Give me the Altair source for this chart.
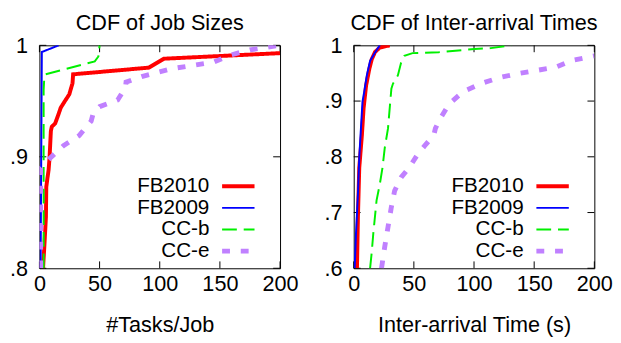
import altair as alt
import pandas as pd

SERIES = ["FB2010", "FB2009", "CC-b", "CC-e"]
COLORS = ["#ff0000", "#0000ff", "#00f000", "#c080ff"]
WIDTHS = [4, 2, 2, 5]
DASHES = [[1, 0], [1, 0], [15, 7], [8, 11]]

# Left panel: CDF of job sizes (x = #tasks/job, y = CDF)
js_fb2010_x = [3.0, 4.1, 5.4, 5.7, 6.8, 7.6, 8.4, 9.5, 10.3, 13.1, 15.8, 17.7, 21.2, 24.8, 27.5, 28.0, 91.0, 103.5, 200.0]
js_fb2010_y = [0.800, 0.820, 0.846, 0.873, 0.882, 0.888, 0.899, 0.923, 0.927, 0.930, 0.938, 0.944, 0.950, 0.956, 0.966, 0.974, 0.980, 0.988, 0.993]
js_fb2009_x = [1.0, 1.5, 2.0, 16.0]
js_fb2009_y = [0.800, 0.900, 0.994, 1.000]
js_ccb_x = [3.5, 3.5, 4.0, 5.0, 46.0, 49.0, 50.0]
js_ccb_y = [0.800, 0.960, 0.970, 0.974, 0.9856, 0.990, 1.000]
js_cce_x = [1.0, 1.0, 9.0, 20.0, 33.0, 43.0, 44.5, 50.0, 65.0, 71.5, 72.0, 85.0, 110.0, 145.0, 158.0, 175.0, 200.0]
js_cce_y = [0.800, 0.890, 0.899, 0.910, 0.919, 0.932, 0.938, 0.945, 0.951, 0.962, 0.967, 0.972, 0.979, 0.985, 0.991, 0.996, 1.000]

# Right panel: CDF of inter-arrival times (x = seconds)
ia_fb2010_x = [2.7, 3.5, 4.6, 6.8, 8.2, 10.3, 13.0, 15.0, 17.7, 21.7, 29.9]
ia_fb2010_y = [0.600, 0.692, 0.780, 0.839, 0.887, 0.928, 0.958, 0.975, 0.988, 0.996, 1.000]
ia_fb2009_x = [0.8, 1.9, 3.5, 4.6, 6.0, 7.3, 8.7, 10.9, 13.6, 17.7, 21.7]
ia_fb2009_y = [0.600, 0.663, 0.733, 0.798, 0.851, 0.899, 0.916, 0.946, 0.972, 0.987, 1.000]
ia_ccb_x = [13.6, 14.9, 16.3, 19.0, 21.7, 23.9, 25.8, 28.5, 29.9, 31.3, 32.6, 36.7, 39.4, 42.1, 48.9, 70.7, 100.5, 114.0, 131.0]
ia_ccb_y = [0.600, 0.627, 0.663, 0.722, 0.751, 0.780, 0.816, 0.851, 0.887, 0.922, 0.931, 0.946, 0.969, 0.981, 0.986, 0.9876, 0.9935, 0.995, 1.000]
ia_cce_x = [23.1, 25.8, 28.5, 31.3, 34.0, 39.4, 46.2, 53.0, 59.8, 66.6, 67.9, 72.0, 78.8, 81.6, 91.0, 106.0, 120.9, 135.8, 152.0, 168.3, 181.8, 200.0]
ia_cce_y = [0.600, 0.639, 0.674, 0.710, 0.739, 0.763, 0.781, 0.804, 0.822, 0.839, 0.851, 0.869, 0.893, 0.899, 0.917, 0.9315, 0.942, 0.949, 0.955, 0.961, 0.973, 0.981]

x_ticks = [0, 50, 100, 150, 200]
left_y_ticks = [0.8, 0.9, 1.0]
right_y_ticks = [0.6, 0.7, 0.8, 0.9, 1.0]

FONT = "Liberation Sans"
FS = 22
LEG_FS = 21
W, H = 245, 227
TL = 7
# legend placement inside plot (pixels, relative to plot area)
LEG_LABEL_RIGHT = 173
LEG_SYM_X1, LEG_SYM_X2 = 186, 219
LEG_ROW0, LEG_ROW_STEP = 143.5, 22


def make_df(pairs):
    rows = []
    for name, xs, ys in pairs:
        for i, (a, b) in enumerate(zip(xs, ys)):
            rows.append({"series": name, "x": a, "y": b, "i": i})
    return pd.DataFrame(rows)


legend_df = pd.DataFrame({"series": SERIES})


def panel(df, title, xtitle, ydom, yticks):
    xs = alt.Scale(domain=[0, 200], nice=False, zero=False)
    ys = alt.Scale(domain=ydom, nice=False, zero=False)
    xaxis = alt.Axis(values=x_ticks, grid=False, ticks=False, domain=False,
                     labelFlush=False, labelPadding=6, titlePadding=20,
                     labelFontSize=FS, titleFontSize=FS)
    yaxis = alt.Axis(values=yticks, grid=False, ticks=False, domain=False,
                     labelFlush=False, labelPadding=12, labelFontSize=FS,
                     labelExpr="datum.value == 1 ? '1' : substring(format(datum.value, '.1f'), 1)")
    layers = []
    xt = pd.DataFrame({"x": x_ticks})
    yt = pd.DataFrame({"y": yticks})
    layers.append(alt.Chart(xt).mark_rule(color="black", strokeWidth=1).encode(
        x=alt.X("x:Q", scale=xs, axis=None), y=alt.value(H - TL), y2=alt.value(H)))
    layers.append(alt.Chart(xt).mark_rule(color="black", strokeWidth=1).encode(
        x=alt.X("x:Q", scale=xs, axis=None), y=alt.value(0), y2=alt.value(TL)))
    layers.append(alt.Chart(yt).mark_rule(color="black", strokeWidth=1).encode(
        y=alt.Y("y:Q", scale=ys, axis=None), x=alt.value(0), x2=alt.value(TL)))
    layers.append(alt.Chart(yt).mark_rule(color="black", strokeWidth=1).encode(
        y=alt.Y("y:Q", scale=ys, axis=None), x=alt.value(W - TL), x2=alt.value(W)))
    for k, (name, col, sw, dash) in enumerate(zip(SERIES, COLORS, WIDTHS, DASHES)):
        first = k == 0
        layers.append(
            alt.Chart(df).transform_filter(alt.datum.series == name).mark_line(
                clip=True, color=col, strokeWidth=sw, strokeDash=dash,
                strokeCap="butt", strokeJoin="miter"
            ).encode(
                x=alt.X("x:Q", scale=xs, title=xtitle, axis=xaxis if first else None),
                y=alt.Y("y:Q", scale=ys, title=None, axis=yaxis if first else None),
                order=alt.Order("i:Q"),
            )
        )
    ypos = alt.Y("series:N", axis=None,
                 scale=alt.Scale(type="point", domain=SERIES, padding=0,
                                 range=[LEG_ROW0, LEG_ROW0 + LEG_ROW_STEP * (len(SERIES) - 1)]))
    layers.append(alt.Chart(legend_df).mark_text(
        align="right", baseline="middle", font=FONT, fontSize=LEG_FS, color="black"
    ).encode(x=alt.value(LEG_LABEL_RIGHT), y=ypos, text="series:N"))
    for name, col, sw, dash in zip(SERIES, COLORS, WIDTHS, DASHES):
        layers.append(alt.Chart(legend_df).transform_filter(alt.datum.series == name).mark_rule(
            color=col, strokeWidth=sw, strokeDash=dash, strokeCap="butt"
        ).encode(x=alt.value(LEG_SYM_X1), x2=alt.value(LEG_SYM_X2), y=ypos))
    return alt.layer(*layers).resolve_scale(x="independent", y="independent").resolve_axis(
        x="independent", y="independent"
    ).properties(
        width=W, height=H,
        title=alt.TitleParams(title, fontSize=FS, font=FONT, fontWeight="normal", color="black", offset=0),
    )


left_df = make_df([
    ("FB2010", js_fb2010_x, js_fb2010_y),
    ("FB2009", js_fb2009_x, js_fb2009_y),
    ("CC-b", js_ccb_x, js_ccb_y),
    ("CC-e", js_cce_x, js_cce_y),
])
right_df = make_df([
    ("FB2010", ia_fb2010_x, ia_fb2010_y),
    ("FB2009", ia_fb2009_x, ia_fb2009_y),
    ("CC-b", ia_ccb_x, ia_ccb_y),
    ("CC-e", ia_cce_x, ia_cce_y),
])

left = panel(left_df, "CDF of Job Sizes", "#Tasks/Job", [0.8, 1.0], left_y_ticks)
right = panel(right_df, "CDF of Inter-arrival Times", "Inter-arrival Time (s)", [0.6, 1.0], right_y_ticks)

chart = alt.hconcat(left, right, spacing=25).configure(
    padding={"left": 1, "top": 0, "right": 0, "bottom": 0},
).configure_view(
    stroke="black", strokeWidth=1
).configure_axis(
    labelFont=FONT, labelFontSize=FS, labelColor="black",
    titleFont=FONT, titleFontSize=FS, titleColor="black", titleFontWeight="normal",
)

chart.save("out.html", embed_options={"renderer": "svg", "actions": False})
